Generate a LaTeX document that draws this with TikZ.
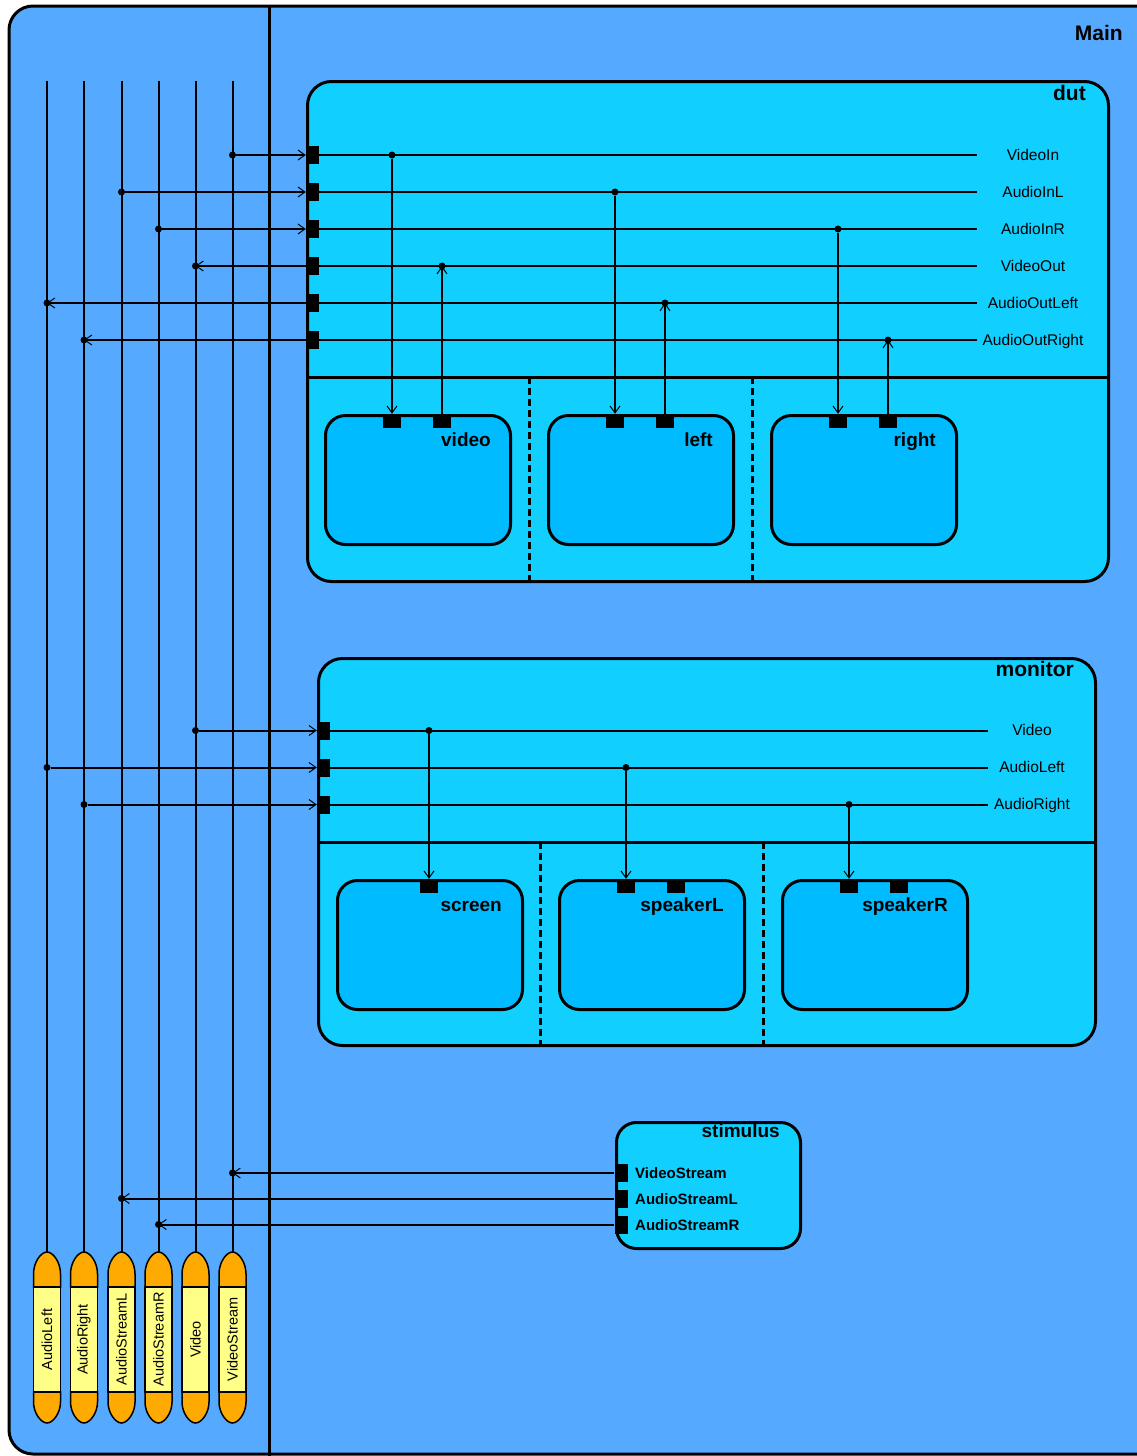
\documentclass[tikz,border=0pt]{standalone}
\usepackage{fontspec}
\setmainfont{Liberation Sans}
\usetikzlibrary{arrows.meta}
\definecolor{mainblue}{RGB}{85,170,255}
\definecolor{boxcyan}{RGB}{17,208,255}
\definecolor{subblue}{RGB}{0,187,255}
\definecolor{capor}{RGB}{255,170,0}
\definecolor{capyel}{RGB}{255,255,136}
\begin{document}
\begin{tikzpicture}[x=1pt,y=-1pt,
  frame/.style={draw=black, line width=3pt, rounded corners=24pt, inner sep=0pt, anchor=north west, fill=boxcyan},
  subbox/.style={draw=black, line width=3pt, rounded corners=20pt, inner sep=0pt, anchor=north west, fill=subblue, minimum width=185pt},
  port/.style={fill=black, inner sep=0pt, minimum width=13pt, minimum height=18pt},
  sport/.style={fill=black, inner sep=0pt, minimum width=18pt, minimum height=14pt},
  wire/.style={line width=2pt},
  arr/.style={wire, -{Straight Barb[length=7pt,width=10pt,line width=1pt]}},
  jdot/.style={circle, fill=black, inner sep=0pt, minimum size=7pt},
  titlelbl/.style={font=\bfseries\fontsize{21}{21}\selectfont, anchor=base east, inner sep=0pt},
  sublabel/.style={font=\bfseries\fontsize{19}{19}\selectfont, anchor=base east, inner sep=0pt},
  plabel/.style={font=\fontsize{15.5}{16}\selectfont, anchor=base, inner sep=0pt},
  slabel/.style={font=\bfseries\fontsize{15}{15}\selectfont, anchor=base west, inner sep=0pt},
  clabel/.style={font=\fontsize{14.5}{15}\selectfont, rotate=90, inner sep=0pt},
  capbody/.style={draw=black, line width=1.5pt, fill=capyel, minimum width=27pt, minimum height=105pt, inner sep=0pt},
  divider/.style={line width=3pt},
  dashdiv/.style={line width=3pt, dash pattern=on 7pt off 4pt}
]
\useasboundingbox (0,0) rectangle (1137,1456);
\fill[white] (0,0) rectangle (1137,1456);
% Main frame (right side lies outside the picture)
\node[fill=mainblue, rounded corners=24pt, inner sep=0pt, anchor=north west, minimum width=1160pt, minimum height=1448pt] (main) at (9,6) {};
\coordinate (mainTR) at (1170,6);
\coordinate (mainTL) at (9,6);
\coordinate (mainBL) at (9,1454);
\coordinate (mainBR) at (1170,1454);
\draw[line width=3pt, rounded corners=24pt] (mainTR) -- (mainTL) -- (mainBL) -- (mainBR);
\node[titlelbl] (mainlbl) at (1123,40) {Main};
\coordinate (divtop) at (269,6);
\coordinate (divbot) at (269,1456);
\draw[divider] (divtop) -- (divbot);

% bus lines and connectors (capsules)
\foreach \x/\n/\t in {47/A/AudioLeft, 84/B/AudioRight, 121.5/C/AudioStreamL, 158.5/D/AudioStreamR, 195.5/E/Video, 232.5/F/VideoStream} {
  \coordinate (bus\n) at (\x,81);
  \coordinate (tip\n) at (\x,1252);
  \draw[wire] (bus\n) -- (tip\n);
  \draw[fill=capor, line width=1.5pt] (\x-13.5,1288) -- (\x-13.5,1274) .. controls (\x-13.5,1262) and (\x-6,1252) .. (\x,1252) .. controls (\x+6,1252) and (\x+13.5,1262) .. (\x+13.5,1274) -- (\x+13.5,1288);
  \draw[fill=capor, line width=1.5pt] (\x-13.5,1391) -- (\x-13.5,1402) .. controls (\x-13.5,1413) and (\x-6,1423) .. (\x,1423) .. controls (\x+6,1423) and (\x+13.5,1413) .. (\x+13.5,1402) -- (\x+13.5,1391);
  \node[capbody] (cap\n) at (\x,1339.5) {};
  \node[clabel] (capl\n) at (cap\n) {\t};
}

% ---------------- dut ----------------
\node[frame, minimum width=801pt, minimum height=500pt] (dut) at (306,80) {};
\node[titlelbl] (dutlbl) at (1086,100) {dut};
\coordinate (dutdivL) at (306,377);
\coordinate (dutdivR) at (1107,377);
\draw[divider] (dutdivL) -- (dutdivR);
\coordinate (dd1t) at (529,377); \coordinate (dd1b) at (529,580);
\coordinate (dd2t) at (752,377); \coordinate (dd2b) at (752,580);
\draw[dashdiv] (dd1t) -- (dd1b);
\draw[dashdiv] (dd2t) -- (dd2b);

\node[subbox, minimum height=129pt] (video) at (324,414) {};
\node[subbox, minimum height=129pt] (left) at (547,414) {};
\node[subbox, minimum height=129pt] (right) at (770,414) {};
\node[sublabel] (videolbl) at (491,446) {video};
\node[sublabel] (leftlbl) at (713,446) {left};
\node[sublabel] (rightlbl) at (936,446) {right};
\node[sport] (vP1) at (392,421) {};
\node[sport] (vP2) at (442,421) {};
\node[sport] (lP1) at (615,421) {};
\node[sport] (lP2) at (665,421) {};
\node[sport] (rP1) at (838,421) {};
\node[sport] (rP2) at (888,421) {};

% dut ports and lines
\foreach \y/\n/\t in {155/1/VideoIn, 192/2/AudioInL, 229/3/AudioInR, 266/4/VideoOut, 303/5/AudioOutLeft, 340/6/AudioOutRight} {
  \node[port] (dP\n) at (312.5,\y) {};
  \coordinate (dE\n) at (977,\y);
  \draw[wire] (dP\n.east) -- (dE\n);
  \node[plabel] (dL\n) at (1033,\y+5) {\t};
}

% dut external connectors
\node[jdot] (jb1) at (232.5,155) {};
\node[jdot] (jb2) at (121.5,192) {};
\node[jdot] (jb3) at (158.5,229) {};
\node[jdot] (jb4) at (195.5,266) {};
\node[jdot] (jb5) at (47,303) {};
\node[jdot] (jb6) at (84,340) {};
\draw[arr] (jb1) -- (dP1.west);
\draw[arr] (jb2) -- (dP2.west);
\draw[arr] (jb3) -- (dP3.west);
\draw[arr] (dP4.west) -- (jb4.center);
\draw[arr] (dP5.west) -- (jb5.center);
\draw[arr] (dP6.west) -- (jb6.center);

% dut internal connectors
\node[jdot] (ji1) at (392,155) {};
\node[jdot] (ji2) at (615,192) {};
\node[jdot] (ji3) at (838,229) {};
\node[jdot] (ji4) at (442,266) {};
\node[jdot] (ji5) at (665,303) {};
\node[jdot] (ji6) at (888,340) {};
\draw[arr] (ji1) -- (vP1.north);
\draw[arr] (ji2) -- (lP1.north);
\draw[arr] (ji3) -- (rP1.north);
\draw[arr] (vP2.north) -- (ji4.center);
\draw[arr] (lP2.north) -- (ji5.center);
\draw[arr] (rP2.north) -- (ji6.center);

% ---------------- monitor ----------------
\node[frame, minimum width=777pt, minimum height=387pt] (monitor) at (317,657) {};
\node[titlelbl] (monlbl) at (1074,676) {monitor};
\coordinate (mdivL) at (317,842);
\coordinate (mdivR) at (1094,842);
\draw[divider] (mdivL) -- (mdivR);
\coordinate (md1t) at (540,842); \coordinate (md1b) at (540,1044);
\coordinate (md2t) at (763,842); \coordinate (md2b) at (763,1044);
\draw[dashdiv] (md1t) -- (md1b);
\draw[dashdiv] (md2t) -- (md2b);

\node[subbox, minimum height=129pt] (screen) at (336,879) {};
\node[subbox, minimum height=129pt] (speakerL) at (558,879) {};
\node[subbox, minimum height=129pt] (speakerR) at (781,879) {};
\node[sublabel] (screenlbl) at (502,911) {screen};
\node[sublabel] (spLlbl) at (724,911) {speakerL};
\node[sublabel] (spRlbl) at (948,911) {speakerR};
\node[sport] (scP1) at (429,886) {};
\node[sport] (sLP1) at (626,886) {};
\node[sport] (sLP2) at (676,886) {};
\node[sport] (sRP1) at (849,886) {};
\node[sport] (sRP2) at (899,886) {};

\foreach \y/\n/\t in {730.5/1/Video, 767.5/2/AudioLeft, 804.5/3/AudioRight} {
  \node[port] (mP\n) at (323.5,\y) {};
  \coordinate (mE\n) at (988,\y);
  \draw[wire] (mP\n.east) -- (mE\n);
  \node[plabel] (mL\n) at (1032,\y+5) {\t};
}
\node[jdot] (mb1) at (195.5,730.5) {};
\node[jdot] (mb2) at (47,767.5) {};
\node[jdot] (mb3) at (84,804.5) {};
\draw[arr] (mb1) -- (mP1.west);
\draw[arr] (mb2) -- (mP2.west);
\draw[arr] (mb3) -- (mP3.west);
\node[jdot] (mi1) at (429,730.5) {};
\node[jdot] (mi2) at (626,767.5) {};
\node[jdot] (mi3) at (849,804.5) {};
\draw[arr] (mi1) -- (scP1.north);
\draw[arr] (mi2) -- (sLP1.north);
\draw[arr] (mi3) -- (sRP1.north);

% ---------------- stimulus ----------------
\node[frame, minimum width=184pt, minimum height=126pt, rounded corners=20pt] (stimulus) at (615,1121) {};
\node[titlelbl, font=\bfseries\fontsize{19}{19}\selectfont] (stimlbl) at (780,1137) {stimulus};
\foreach \y/\n/\t in {1173/1/VideoStream, 1198.5/2/AudioStreamL, 1224.5/3/AudioStreamR} {
  \node[port] (sP\n) at (621,\y) {};
  \node[slabel] (sL\n) at (635,\y+5.5) {\t};
}
\node[jdot] (sb1) at (232.5,1173) {};
\node[jdot] (sb2) at (121.5,1198.5) {};
\node[jdot] (sb3) at (158.5,1224.5) {};
\draw[arr] (sP1.west) -- (sb1.center);
\draw[arr] (sP2.west) -- (sb2.center);
\draw[arr] (sP3.west) -- (sb3.center);
\end{tikzpicture}
\end{document}
